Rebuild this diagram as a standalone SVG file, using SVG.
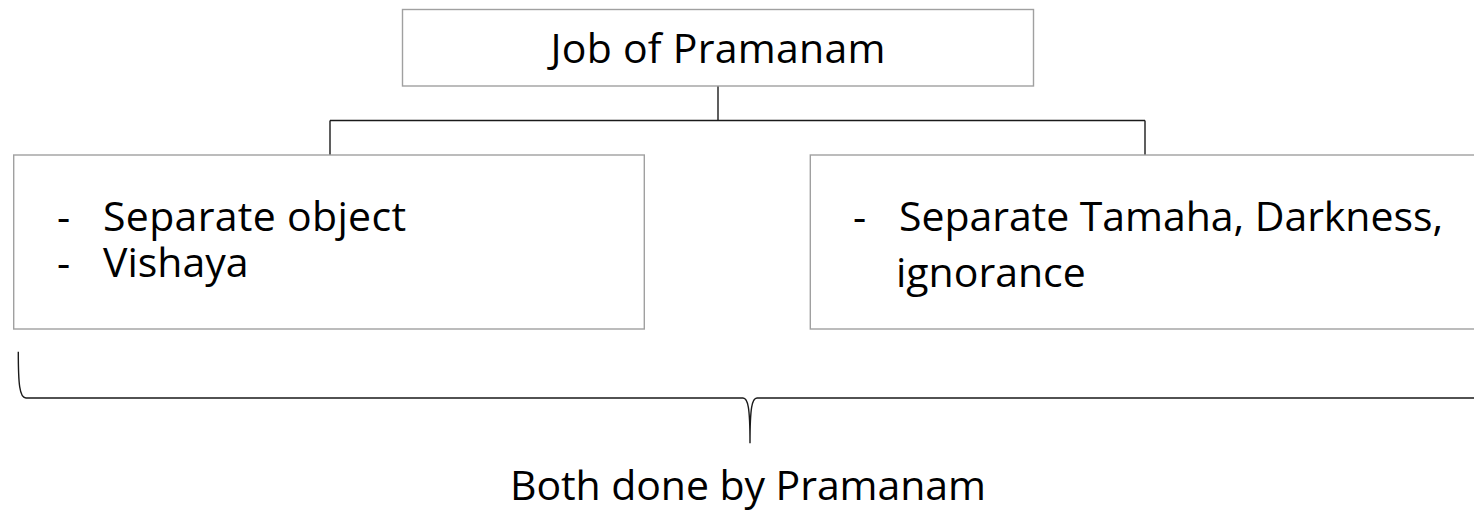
<svg xmlns="http://www.w3.org/2000/svg" width="1474" height="510" viewBox="0 0 1474 510">
  <style>
    .box { fill: #ffffff; stroke: #a0a0a0; stroke-width: 1.4; }
    .link { fill: none; stroke: #1a1a1a; stroke-width: 1.4; }
    .brace { fill: none; stroke: #1a1a1a; stroke-width: 1.4; }
    .label { font-family: "Open Sans", "Noto Sans", "Liberation Sans", sans-serif; font-size: 41px; fill: #000000; }
  </style>
  <rect width="1474" height="510" fill="#ffffff"/>

  <!-- connectors: root to the two children -->
  <g id="connectors">
    <path class="link" d="M718,86 V120.5"/>
    <path class="link" d="M330,120.5 H1145"/>
    <path class="link" d="M330,120.5 V155"/>
    <path class="link" d="M1145,120.5 V155"/>
  </g>

  <!-- root node -->
  <g id="job-of-pramanam">
    <rect class="box" x="402.5" y="9.5" width="631" height="76.5"/>
    <text class="label" x="718" y="63" text-anchor="middle" textLength="335">Job of Pramanam</text>
  </g>

  <!-- left child -->
  <g id="separate-object">
    <rect class="box" x="13.7" y="155" width="630.6" height="174"/>
    <text class="label" x="57" y="230.7">-</text>
    <text class="label" x="103" y="230.7" textLength="303">Separate object</text>
    <text class="label" x="57" y="276.7">-</text>
    <text class="label" x="103" y="276.7">Vishaya</text>
  </g>

  <!-- right child (runs past the right edge) -->
  <g id="separate-tamaha">
    <rect class="box" x="810.3" y="155" width="680" height="174"/>
    <text class="label" x="853" y="230.7">-</text>
    <text class="label" x="899" y="230.7" textLength="544">Separate Tamaha, Darkness,</text>
    <text class="label" x="896" y="286.7">ignorance</text>
  </g>

  <!-- brace grouping both children -->
  <g id="brace">
    <path class="brace" d="M18.3,351.7 C18.3,384 19.5,398 26,398 L743,398 C748,398 750,408 750,443.3 C750,408 752,398 757,398 L1474,398 C1480.5,398 1481.7,384 1481.7,351.7"/>
  </g>

  <g id="both-done">
    <text class="label" x="748" y="500" text-anchor="middle" textLength="476">Both done by Pramanam</text>
  </g>
</svg>
